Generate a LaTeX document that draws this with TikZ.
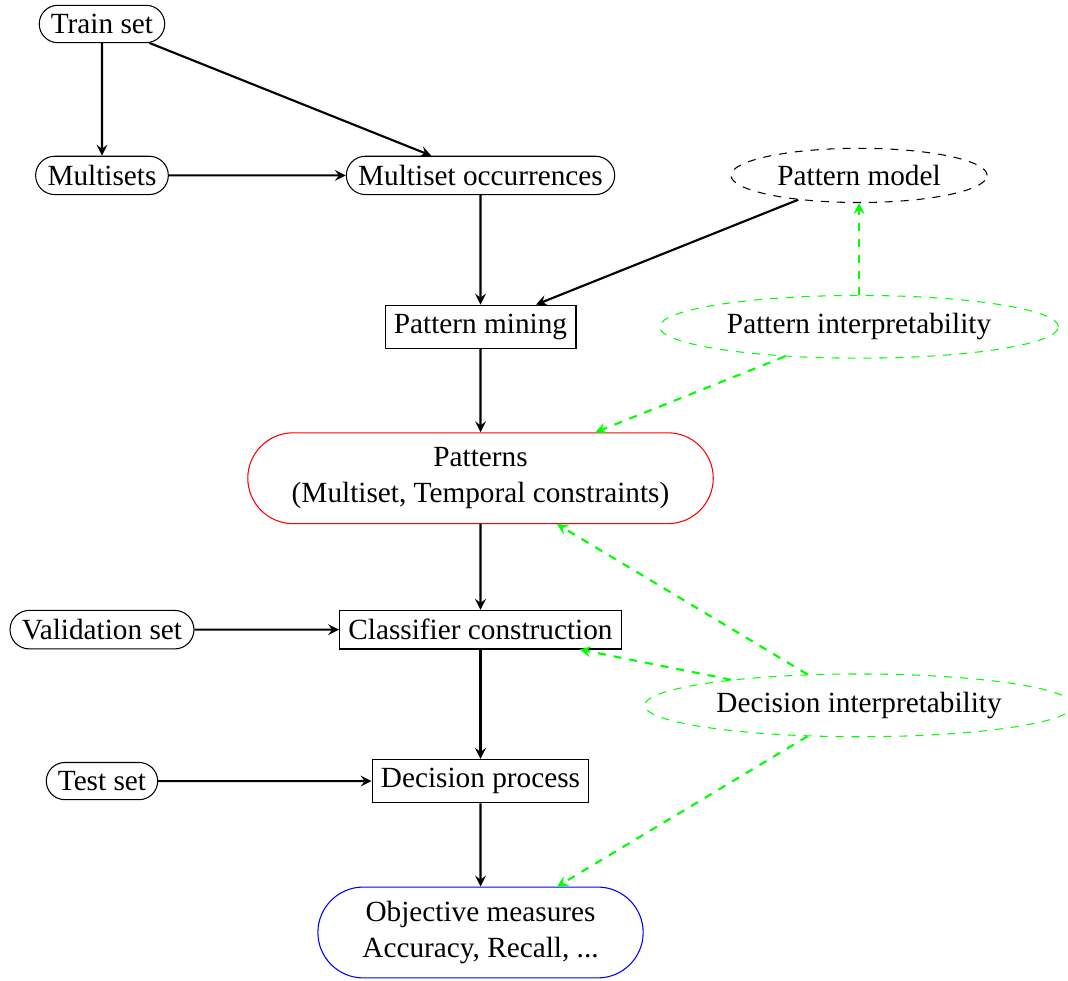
\documentclass[tikz,border=0pt]{standalone}
\usepackage{fontspec}
\setmainfont{Liberation Serif}
\usetikzlibrary{shapes.misc,shapes.geometric}

\tikzset{
    dataset/.style={draw, rounded rectangle},
    process/.style={draw, rectangle},
    outcome/.style={draw, rounded rectangle, align=center, minimum height=1.2cm, inner xsep=12pt},
    interp/.style={draw=green, dashed, ellipse},
    flow/.style={black, thick, ->},
    interpflow/.style={green, thick, dashed, ->}
}

\begin{document}
\begin{tikzpicture}[font=\fontsize{11}{13.6}\selectfont, >=stealth]
    \useasboundingbox (-1.347,0.317) rectangle (12.76,-12.64);
    % data sets
    \node[dataset] (train) at (0,0) {Train set};
    \node[dataset] (multisets) at (0,-2) {Multisets};
    \node[dataset] (occurrences) at (5,-2) {Multiset occurrences};
    \node[dataset] (validation) at (0,-8) {Validation set};
    \node[dataset] (test) at (0,-10) {Test set};
    % processing steps
    \node[process] (mining) at (5,-4) {Pattern mining};
    \node[process] (classifier) at (5,-8) {Classifier construction};
    \node[process] (decision) at (5,-10) {Decision process};
    % results
    \node[outcome, draw=red] (patterns) at (5,-6) {Patterns\\(Multiset, Temporal constraints)};
    \node[outcome, draw=blue] (measures) at (5,-12) {Objective measures\\Accuracy, Recall, ...};
    % pattern model and interpretability
    \node[draw, dashed, ellipse] (model) at (10,-2) {Pattern model};
    \node[interp] (patinterp) at (10,-4) {Pattern interpretability};
    \node[interp] (decinterp) at (10,-9) {Decision interpretability};
    % main flow
    \draw[flow] (train) -- (multisets);
    \draw[flow] (train) -- (occurrences);
    \draw[flow] (multisets) -- (occurrences);
    \draw[flow] (occurrences) -- (mining);
    \draw[flow] (model) -- (mining);
    \draw[flow] (mining) -- (patterns);
    \draw[flow] (patterns) -- (classifier);
    \draw[flow] (validation) -- (classifier);
    \draw[flow] (classifier) -- (decision);
    \draw[flow] (test) -- (decision);
    \draw[flow] (decision) -- (measures);
    % interpretability links
    \draw[interpflow] (patinterp) -- (model);
    \draw[interpflow] (patinterp) -- (patterns);
    \draw[interpflow] (decinterp) -- (patterns);
    \draw[interpflow] (decinterp) -- (classifier);
    \draw[interpflow] (decinterp) -- (measures);
\end{tikzpicture}
\end{document}
